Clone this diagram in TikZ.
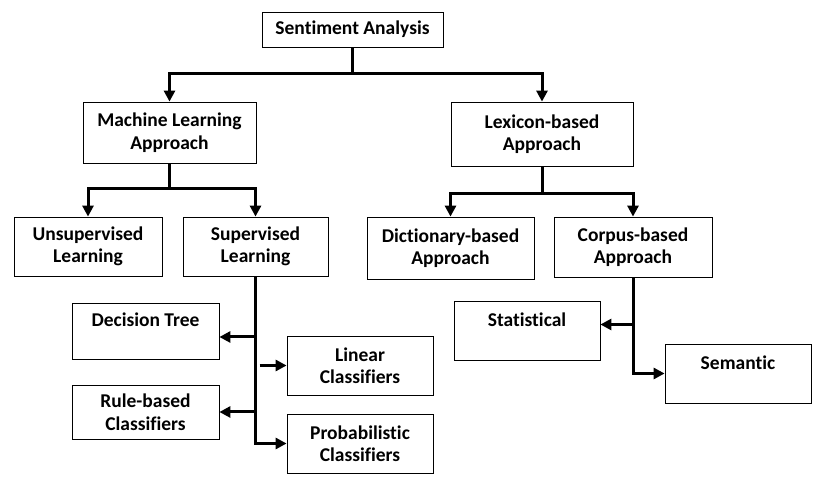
\documentclass[tikz,border=0pt]{standalone}
\usepackage{fontspec}
\setmainfont[Ligatures=NoCommon]{Carlito}
\usetikzlibrary{arrows.meta}

\begin{document}
\begin{tikzpicture}[
  x=1pt,y=-1pt,
  font=\fontsize{19.5}{22.5}\selectfont\bfseries,
  >={Triangle[length=11pt,width=11pt]},
  box/.style={draw,line width=0.8pt,align=center,inner sep=2pt},
  conn/.style={->,line width=3pt}]
  \useasboundingbox (0,0) rectangle (823,486);
  \node[box,minimum width=181,minimum height=35] (sa)   at (352.5,29.5) {\raisebox{-2pt}{Sentiment Analysis}};
  \node[box,minimum width=173,minimum height=61] (ml)   at (169.5,132.5) {Machine Learning\\Approach};
  \node[box,minimum width=182,minimum height=64] (lex)  at (542,134)    {Lexicon-based\\Approach};
  \node[box,minimum width=148,minimum height=59] (uns)  at (88,246.5)   {Unsupervised\\Learning};
  \node[box,minimum width=145,minimum height=59] (sup)  at (255.5,246.5) {Supervised\\Learning};
  \node[box,minimum width=167,minimum height=62] (dict) at (450.5,248)  {Dictionary-based\\Approach};
  \node[box,minimum width=158,minimum height=60] (corp) at (633,247)    {Corpus-based\\Approach};
  \node[box,minimum width=147,minimum height=56] (dt)   at (145.5,331)  {Decision Tree\\\mbox{}};
  \node[box,minimum width=146,minimum height=59] (lin)  at (360,365.5)  {Linear\\Classifiers};
  \node[box,minimum width=147,minimum height=54] (rule) at (145.5,412)  {Rule-based\\Classifiers};
  \node[box,minimum width=146,minimum height=59] (prob) at (360,443.5)  {Probabilistic\\Classifiers};
  \node[box,minimum width=146,minimum height=59] (stat) at (527,330.5)  {Statistical\\\mbox{}};
  \node[box,minimum width=146,minimum height=59] (sem)  at (738,373.5)  {Semantic\\\mbox{}};
  % tree branches
  \foreach \p/\c/\d in {sa/ml/26,sa/lex/26,ml/uns/25,ml/sup/25,lex/dict/27,lex/corp/27}
    \draw[conn] (\p.south) -- ++(0,\d) -| (\c.north);
  % supervised classifiers
  \draw[conn] (sup.south) |- (prob.west);
  \draw[conn] (sup.south |- dt.east) ++(0,6) -- ([yshift=-6pt]dt.east);
  \draw[conn] (sup.south |- rule.east) -- (rule.east);
  \draw[conn] ([xshift=4pt]sup.south |- lin.west) -- (lin.west);
  % corpus-based methods
  \draw[conn] (corp.south) |- (sem.west);
  \draw[conn] (corp.south |- stat.east) ++(0,-6) -- ([yshift=6pt]stat.east);
\end{tikzpicture}
\end{document}
